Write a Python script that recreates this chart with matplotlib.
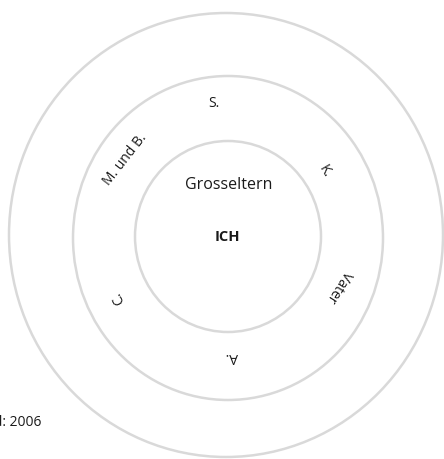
import numpy as np
import matplotlib.pyplot as plt
from matplotlib.patches import Ellipse

# %%
# Rings (centre x, centre y, width, height) in pixel units
ring_cx = [228, 228, 226]
ring_cy = [236.5, 238, 235]
ring_w = [186, 310, 434]
ring_h = [191, 324, 444]

# Labels on the middle ring: text, polar angle (deg), distance from centre, rotation
ring_labels = ["S.", "K.", "Vater", "A.", "C.", "M. und B."]
label_angle = [96, 34, -24, -88, 209, 143]
label_dist = [134, 117, 121, 120, 125, 129]
label_rot = [0, -60, -122, 180, 115, 52]

center = (228, 237)

# %%
plt.rcParams['font.family'] = ['Open Sans', 'DejaVu Sans']
fig = plt.figure(figsize=(4.44, 4.59), dpi=100)
ax = fig.add_axes([0, 0, 1, 1])
ax.set_xlim(0, 444)
ax.set_ylim(459, 0)
ax.axis('off')

for cx, cy, w, h in zip(ring_cx, ring_cy, ring_w, ring_h):
    ax.add_patch(Ellipse((cx, cy), w, h, fill=False, edgecolor='#d9d9d9', lw=1.8))

txt_color = '#1a1a1a'
ax.text(229, 185, "Grosseltern", ha='center', va='center', fontsize=11.5, color=txt_color)
ax.text(227, 237, "ICH", ha='center', va='center', fontsize=10.5, fontweight='bold', color=txt_color)

for lab, a, d, rot in zip(ring_labels, label_angle, label_dist, label_rot):
    x = center[0] + d*np.cos(np.radians(a))
    y = center[1] - d*np.sin(np.radians(a))
    ax.text(x, y, lab, ha='center', va='center', rotation=rot, rotation_mode='anchor',
            fontsize=10, color=txt_color)

ax.text(41, 423, "Stand: 2006", ha='right', va='center', fontsize=10, color=txt_color)

fig.savefig("out.png", dpi=100)
